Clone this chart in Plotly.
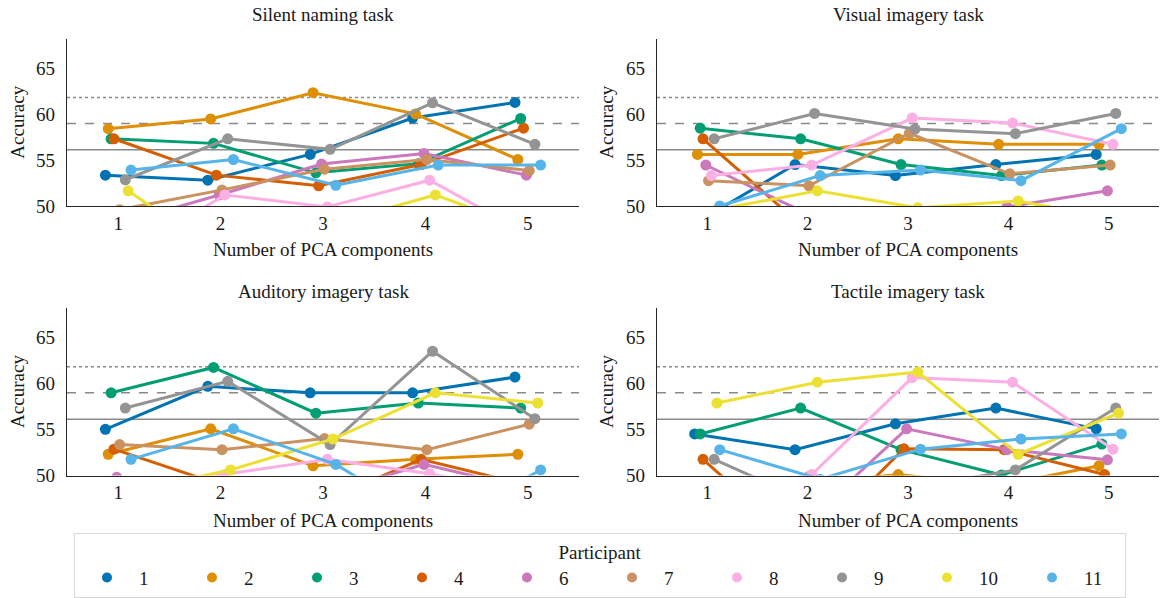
import plotly.graph_objects as go

# ---------------- data ----------------
participants = ["1", "2", "3", "4", "6", "7", "8", "9", "10", "11"]
n_components = ["1", "2", "3", "4", "5"]
tasks = ["Silent naming task", "Visual imagery task", "Auditory imagery task", "Tactile imagery task"]

silent_naming = [
    [53.35, 52.80, 55.60, 59.55, 61.25],
    [58.40, 59.45, 62.30, 60.00, 55.05],
    [57.30, 56.80, 53.60, 54.60, 59.50],
    [57.30, 53.35, 52.20, 54.50, 58.45],
    [48.00, 51.20, 54.55, 55.70, 53.35],
    [49.60, 51.75, 54.00, 55.05, 53.85],
    [44.50, 51.20, 49.90, 52.80, 46.70],
    [52.85, 57.30, 56.15, 61.20, 56.70],
    [51.65, 44.00, 48.10, 51.20, 47.10],
    [53.90, 55.05, 52.25, 54.45, 54.45],
]
visual_imagery = [
    [48.10, 54.50, 53.30, 54.50, 55.60],
    [55.60, 55.60, 57.30, 56.70, 56.70],
    [58.45, 57.30, 54.50, 53.30, 54.45],
    [57.30, 47.70, 46.50, 47.00, 47.50],
    [54.45, 49.20, 48.00, 49.90, 51.65],
    [52.75, 52.20, 57.90, 53.50, 54.45],
    [53.30, 54.45, 59.55, 59.00, 56.70],
    [57.30, 60.05, 58.35, 57.85, 60.05],
    [49.60, 51.65, 49.80, 50.55, 48.50],
    [50.00, 53.30, 53.90, 52.75, 58.40],
]
auditory_imagery = [
    [55.00, 59.65, 58.95, 58.95, 60.65],
    [52.30, 55.05, 51.05, 51.75, 52.30],
    [58.95, 61.70, 56.75, 57.85, 57.30],
    [52.85, 49.15, 47.00, 51.75, 49.05],
    [49.80, 48.50, 47.90, 51.20, 48.60],
    [53.35, 52.80, 54.00, 52.80, 55.55],
    [48.50, 50.10, 51.75, 50.20, 48.00],
    [57.30, 60.20, 53.35, 63.45, 56.15],
    [48.30, 50.60, 53.95, 58.95, 57.85],
    [51.75, 55.05, 51.20, 44.50, 50.60],
]
tactile_imagery = [
    [54.50, 52.80, 55.60, 57.30, 55.05],
    [48.00, 49.00, 50.10, 48.90, 51.05],
    [54.50, 57.30, 52.80, 50.05, 53.40],
    [51.75, 42.00, 52.90, 52.80, 50.10],
    [44.00, 45.00, 55.05, 52.80, 51.70],
    [47.50, 49.90, 48.50, 48.00, 48.50],
    [48.00, 50.10, 60.60, 60.10, 52.85],
    [51.75, 46.90, 48.70, 50.60, 57.30],
    [57.85, 60.10, 61.20, 52.30, 56.75],
    [52.80, 49.60, 52.85, 53.95, 54.50],
]
task_data = [silent_naming, visual_imagery, auditory_imagery, tactile_imagery]

# reference accuracy levels (solid, dashed, dotted)
ref_levels = [56.1, 58.95, 61.77]
y_ticks = [50, 55, 60, 65]

# ---------------- styles ----------------
colors = ["#0173b2", "#de8f05", "#029e73", "#d55e00", "#cc78bc",
          "#ca9161", "#fbafe4", "#949494", "#ece133", "#56b4e9"]
ref_dash = ["solid", "dash", "dot"]
FONT = "Liberation Serif"
FS = 19

W, H = 1163, 598
# axis pixel boxes: (left, right, top, bottom)
boxes = [(67, 579, 39.3, 206), (657, 1159, 39.3, 206),
         (67, 579, 308.3, 475.5), (657, 1159, 308.3, 475.5)]
title_y = [15, 15, 291, 291]
xlabel_y = [250, 250, 520, 520]
ylabel_x = [18, 607, 18, 607]

n_hue = len(participants)
dodge = 0.025 * n_hue
offsets = [-dodge / 2 + j * dodge / (n_hue - 1) for j in range(n_hue)]

fig = go.Figure()
annotations = []
shapes = []

for k, (task, data) in enumerate(zip(tasks, task_data)):
    l, r, t, b = boxes[k]
    xd = [l / W, r / W]
    yd = [1 - b / H, 1 - t / H]
    sfx = "" if k == 0 else str(k + 1)
    xname, yname = "x" + sfx, "y" + sfx
    for j, p in enumerate(participants):
        fig.add_trace(go.Scatter(
            x=[i + offsets[j] for i in range(len(n_components))],
            y=data[j],
            mode="lines+markers",
            line=dict(color=colors[j], width=3),
            marker=dict(color=colors[j], size=11),
            xaxis=xname, yaxis=yname,
            showlegend=False, cliponaxis=True,
            name=p,
        ))
    axis_common = dict(showgrid=False, zeroline=False, showline=True,
                       linecolor="#262626", linewidth=1.3, ticks="",
                       tickfont=dict(family=FONT, size=FS, color="#1a1a1a"))
    fig.update_layout(**{
        ("xaxis" + sfx): dict(domain=xd, anchor=yname, range=[-0.5, 4.5],
                              tickmode="array", tickvals=list(range(len(n_components))),
                              ticktext=n_components, ticklabelstandoff=0, **axis_common),
        ("yaxis" + sfx): dict(domain=yd, anchor=xname, range=[50, 68.1],
                              tickmode="array", tickvals=y_ticks,
                              ticklabelstandoff=7, **axis_common),
    })
    for lvl, dsh in zip(ref_levels, ref_dash):
        shapes.append(dict(type="line", xref=xname + " domain", yref=yname,
                           x0=0, x1=1, y0=lvl, y1=lvl,
                           line=dict(color="#8a8a8a", width=1.5, dash=dsh), layer="below"))
    cx = (l + r) / 2 / W
    annotations.append(dict(text=task, x=cx, y=1 - title_y[k] / H, xref="paper", yref="paper",
                            showarrow=False, xanchor="center", yanchor="middle",
                            font=dict(family=FONT, size=FS, color="#1a1a1a")))
    annotations.append(dict(text="Number of PCA components", x=cx, y=1 - xlabel_y[k] / H,
                            xref="paper", yref="paper", showarrow=False,
                            xanchor="center", yanchor="middle",
                            font=dict(family=FONT, size=FS, color="#1a1a1a")))
    annotations.append(dict(text="Accuracy", x=ylabel_x[k] / W, y=1 - (t + b) / 2 / H,
                            xref="paper", yref="paper", showarrow=False, textangle=-90,
                            xanchor="center", yanchor="middle",
                            font=dict(family=FONT, size=FS, color="#1a1a1a")))

# legend entries (markers only)
for j, p in enumerate(participants):
    fig.add_trace(go.Scatter(x=[None], y=[None], mode="markers",
                             marker=dict(color=colors[j], size=10),
                             name=p, showlegend=True, xaxis="x", yaxis="y"))

fig.update_layout(
    width=W, height=H, template="none",
    margin=dict(l=0, r=0, t=0, b=0, autoexpand=False),
    paper_bgcolor="white", plot_bgcolor="white",
    shapes=shapes, annotations=annotations,
    legend=dict(orientation="h", x=600 / W, xanchor="center", y=1 - 533 / H, yanchor="top",
                title=dict(text="Participant", side="top center",
                           font=dict(family=FONT, size=FS, color="#1a1a1a")),
                font=dict(family=FONT, size=FS, color="#1a1a1a"),
                itemwidth=54, entrywidth=36, entrywidthmode="pixels",
                bordercolor="#d9d9d9", borderwidth=1, bgcolor="white"),
)

fig.write_html("out.html", config={"displayModeBar": False},
               post_script="document.body.style.margin='0';document.body.style.overflow='hidden';")
